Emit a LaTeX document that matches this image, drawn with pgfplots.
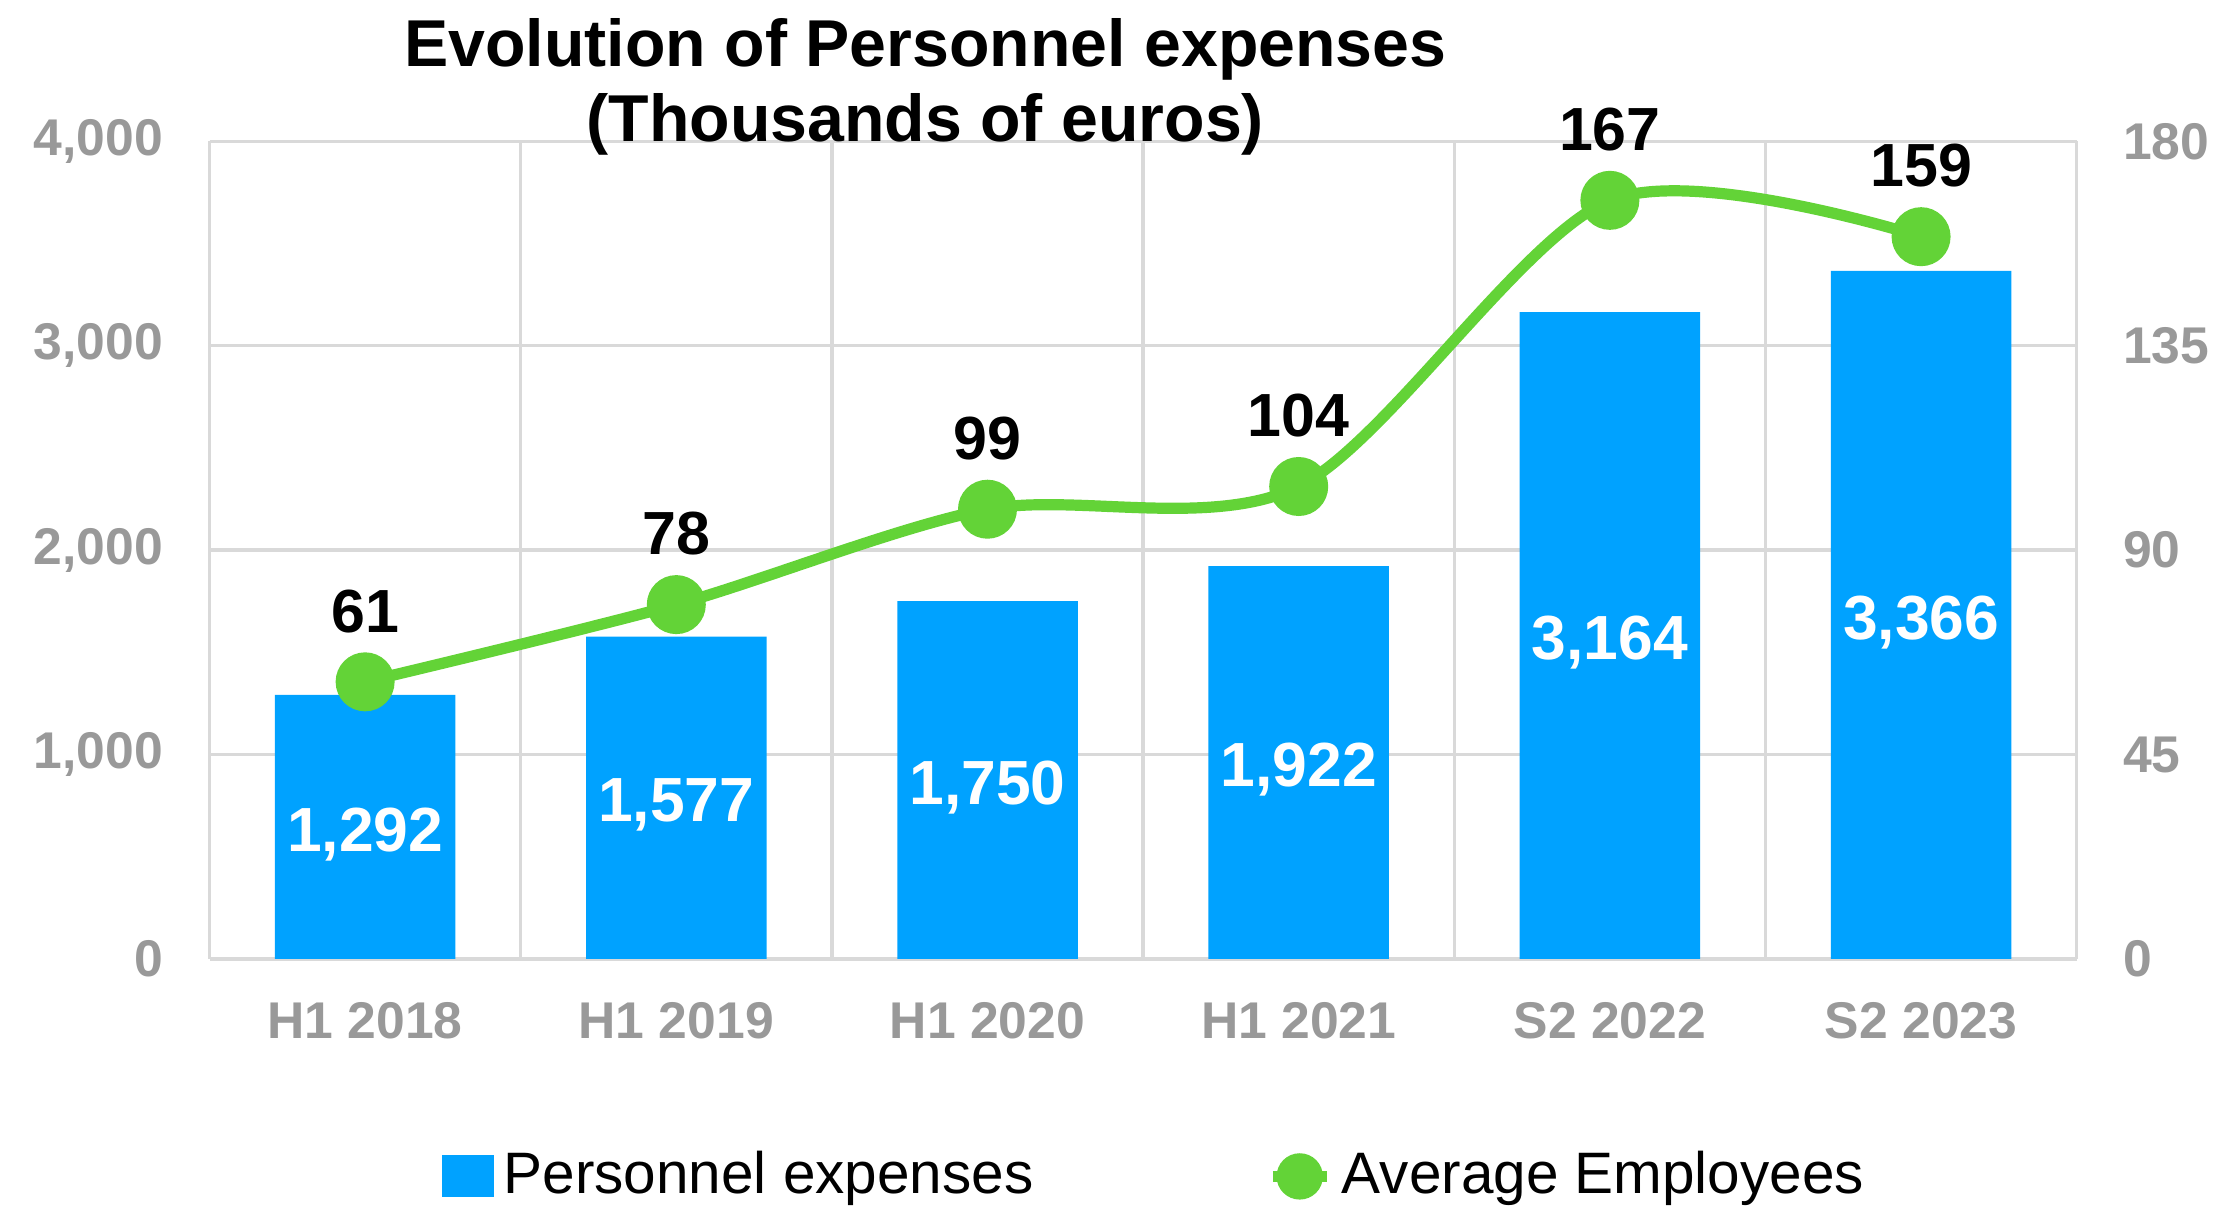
\documentclass[border=0pt]{standalone}
\usepackage{fontspec}
\setmainfont{Liberation Sans}
\usepackage{pgfplots}
\usepackage{pgfplotstable}
\pgfplotsset{compat=1.18}
\definecolor{barblue}{HTML}{00A2FF}
\definecolor{linegreen}{HTML}{63D337}
\definecolor{tickgray}{HTML}{999999}
\definecolor{gridgray}{HTML}{D9D9D9}

% x, personnel expenses (k EUR), average employees
\pgfplotstableread{
x exp explabel emp emplabel
0 1292 1,292 61 61
1 1577 1,577 78 78
2 1750 1,750 99 99
3 1922 1,922 104 104
4 3164 3,164 167 167
5 3366 3,366 159 159
}\datatable

\begin{document}
\begin{tikzpicture}
\path[use as bounding box] (-43pt,-51.7pt) rectangle (412.2pt,196.8pt);
\begin{axis}[
    at={(0pt,0pt)}, anchor=south west,
    scale only axis, width=383.2pt, height=167.8pt,
    xmin=-0.5, xmax=5.5, ymin=0, ymax=4000,
    xtick={0,...,5},
    xticklabels={H1 2018,H1 2019,H1 2020,H1 2021,S2 2022,S2 2023},
    minor xtick={-0.5,0.5,1.5,2.5,3.5,4.5,5.5},
    ytick={0,1000,2000,3000,4000},
    yticklabels={0,{1,000},{2,000},{3,000},{4,000}},
    ymajorgrids, xminorgrids,
    grid style={gridgray, line width=0.7pt},
    minor grid style={gridgray, line width=0.7pt},
    axis x line*=bottom, axis y line*=left,
    x axis line style={gridgray, line width=0.8pt},
    y axis line style={draw=none},
    major tick length=0pt, minor tick length=0pt,
    tick label style={font=\fontsize{10.6}{12}\selectfont\bfseries, text=tickgray},
    yticklabel style={xshift=-6pt},
    xticklabel style={yshift=-5.5pt},
  ]
  \addplot[ybar, bar width=0.58, fill=barblue, draw=none]
    table[x=x, y=exp] {\datatable};
  \addplot[only marks, mark=none, nodes near coords, point meta=explicit symbolic,
    every node near coord/.append style={text=white, anchor=center, yshift=-1.5pt,
      font=\fontsize{12.8}{14}\selectfont\bfseries}]
    table[x=x, y expr=\thisrow{exp}/2, meta=explabel] {\datatable};
\end{axis}
\begin{axis}[
    at={(0pt,0pt)}, anchor=south west,
    scale only axis, width=383.2pt, height=167.8pt,
    xmin=-0.5, xmax=5.5, ymin=0, ymax=180,
    axis x line=none, axis y line*=right,
    y axis line style={draw=none},
    ytick={0,45,90,135,180},
    yticklabels={0,45,90,135,180},
    major tick length=0pt,
    tick label style={font=\fontsize{10.6}{12}\selectfont\bfseries, text=tickgray},
    yticklabel style={xshift=6pt},
    legend columns=2,
    legend style={at={(0.508,-0.266)}, anchor=center, draw=none, fill=none,
      font=\fontsize{12}{14}\selectfont,
      /tikz/every even column/.append style={column sep=46pt}},
  ]
  \addlegendimage{legend image code/.code={\fill[barblue] (0pt,-4pt) rectangle (10.2pt,4.1pt);}}
  \addlegendentry{Personnel expenses}
  \addplot[linegreen, line width=2.3pt, smooth, mark=*, mark size=4.9pt,
    mark options={fill=linegreen, draw=linegreen},
    legend image code/.code={
      \draw[linegreen, line width=2.3pt] (0pt,0pt) -- (11pt,0pt);
      \fill[linegreen] (5.5pt,0pt) circle (3.6pt);},
    nodes near coords, point meta=explicit symbolic,
    every node near coord/.append style={text=black, anchor=center, yshift=14.5pt,
      font=\fontsize{12.5}{14}\selectfont\bfseries}]
    table[x=x, y=emp, meta=emplabel] {\datatable};
  \addlegendentry{Average Employees}
\end{axis}
\node[align=center, font=\fontsize{13.6}{15.4}\selectfont\bfseries] at (146.9pt,179pt)
  {Evolution of Personnel expenses\\(Thousands of euros)};
\end{tikzpicture}
\end{document}
